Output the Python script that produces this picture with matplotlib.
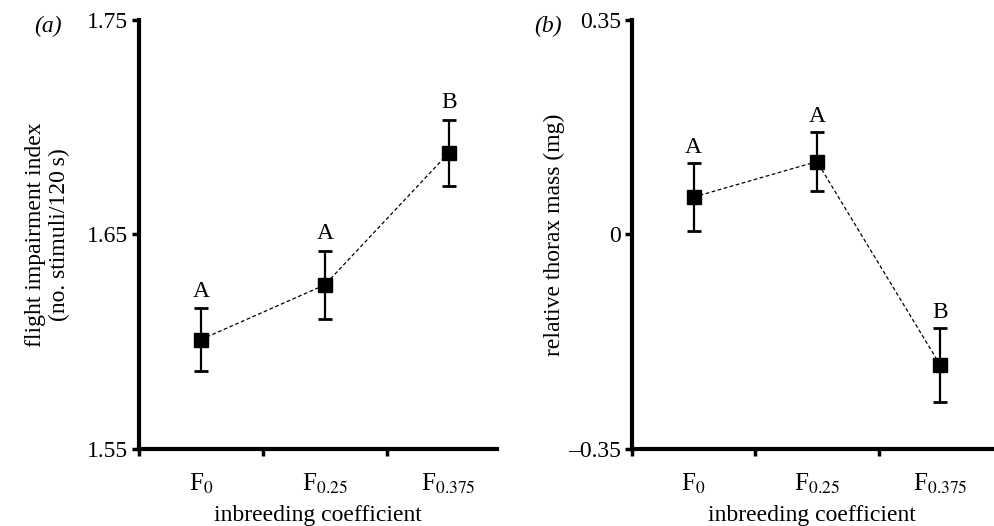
import numpy as np
import matplotlib
matplotlib.use("Agg")
import matplotlib.pyplot as plt

plt.rcParams['font.family'] = ['Liberation Serif', 'DejaVu Serif']
plt.rcParams['mathtext.fontset'] = 'stix'
plt.rcParams['font.size'] = 16

groups = ["F$_0$", "F$_{0.25}$", "F$_{0.375}$"]

# panel (a): flight impairment index
flight_mean = [1.601, 1.6265, 1.688]
flight_err = [0.0145, 0.016, 0.0155]
flight_letters = ["A", "A", "B"]

# panel (b): relative thorax mass
thorax_mean = [0.061, 0.119, -0.213]
thorax_err = [0.055, 0.048, 0.060]
thorax_letters = ["A", "A", "B"]

fig = plt.figure(figsize=(9.94, 5.26), dpi=100)
ax_a = fig.add_axes([0.1398, 0.1464, 0.3602, 0.8156])
ax_b = fig.add_axes([0.6358, 0.1464, 0.3622, 0.8156])

x = np.arange(len(groups)) + 0.5


def draw(ax, mean, err, letters, ylim, yticks, yticklabels, ylabel, tag, tagx, xmax, pad, ylpad):
    ax.plot(x, mean, ls=(0, (3, 2)), color='black', lw=0.9, zorder=2)
    ax.errorbar(x, mean, yerr=err, fmt='s', color='black', ms=10.5,
                elinewidth=1.6, capsize=5, capthick=2, zorder=3)
    for xi, m, e, t in zip(x, mean, err, letters):
        ax.text(xi, m + e + pad, t, ha='center', va='bottom', fontsize=17)
    ax.set_xlim(0, xmax)
    ax.set_ylim(*ylim)
    ax.set_yticks(yticks)
    ax.set_yticklabels(yticklabels)
    ax.set_xticks([0, 1, 2])
    ax.set_xticklabels([])
    ax.set_xticks(x, minor=True)
    ax.set_xticklabels(groups, minor=True)
    ax.tick_params(axis='x', which='minor', length=0, pad=16, labelsize=18)
    ax.tick_params(axis='both', which='major', direction='out', length=5, width=2.5, labelsize=17)
    ax.tick_params(axis='y', pad=3)
    for s in ['top', 'right']:
        ax.spines[s].set_visible(False)
    for s in ['left', 'bottom']:
        ax.spines[s].set_linewidth(3)
    ax.set_xlabel("inbreeding coefficient", fontsize=17, labelpad=7)
    ax.set_ylabel(ylabel, fontsize=17, labelpad=ylpad)
    ax.text(tagx, 0.984, tag, transform=ax.transAxes, fontsize=17, style='italic',
            ha='center', va='center')


draw(ax_a, flight_mean, flight_err, flight_letters, (1.55, 1.75), [1.55, 1.65, 1.75],
     ["1.55", "1.65", "1.75"], "flight impairment index\n(no. stimuli/120\u2009s)", "(a)", -0.254,
     2.89, 0.003, 12)
draw(ax_b, thorax_mean, thorax_err, thorax_letters, (-0.35, 0.35), [-0.35, 0, 0.35],
     ["\u20130.35", "0", "0.35"], "relative thorax mass (mg)", "(b)", -0.232,
     2.92, 0.008, 2)

fig.savefig("out.png", dpi=100)
